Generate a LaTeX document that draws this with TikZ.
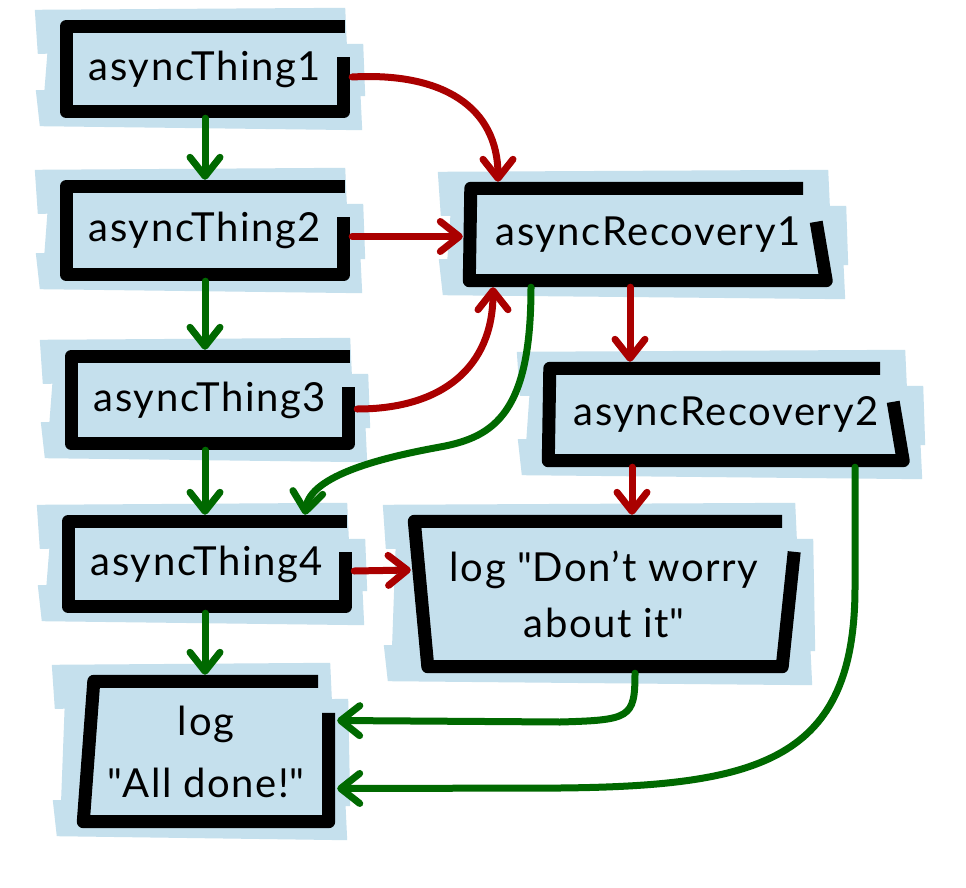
\documentclass[tikz,border=0pt]{standalone}
\usepackage{fontspec}
\setmainfont{Lato}[LetterSpace=4.0]
\usetikzlibrary{arrows.meta,backgrounds}
\definecolor{boxblue}{RGB}{197,224,237}
\definecolor{arrred}{RGB}{170,0,0}
\definecolor{arrgreen}{RGB}{0,105,0}
\newcommand\bluestrips[1]{%
 \fill[boxblue] ([shift={(-25,-10)}]#1.north west) -- ([shift={(-5,-12)}]#1.north east) -- ([shift={(-3,32)}]#1.north east) -- ([shift={(-22,34)}]#1.north west) -- cycle;
 \fill[boxblue] ([shift={(-12,28)}]#1.north west) -- ([shift={(13,24)}]#1.north east) -- ([shift={(15,-22)}]#1.south east) -- ([shift={(-16,-20)}]#1.south west) -- cycle;
 \fill[boxblue] ([shift={(-24,-28)}]#1.south west) -- ([shift={(10,-30)}]#1.south east) -- ([shift={(12,12)}]#1.south east) -- ([shift={(-20,8)}]#1.south west) -- cycle;
}
\newcommand\plainframe[1]{%
 \draw[frame] ([shift={(-5,6.5)}]#1.north east) -- ([shift={(6.5,6.5)}]#1.north west) -- ([shift={(6.5,-6.5)}]#1.south west) -- ([shift={(-6.5,-6.5)}]#1.south east) -- ([shift={(-6.5,37)}]#1.north east);
}
\newcommand\slantframe[1]{%
 \draw[frame] ([shift={(-30,6.5)}]#1.north east) -- ([shift={(8,6.5)}]#1.north west) -- ([shift={(6.5,-6.5)}]#1.south west) -- ([shift={(-7,-6.5)}]#1.south east) -- ([shift={(-17,40)}]#1.north east);
}
\newcommand\dq{\textquotedbl}
\tikzset{
 frame/.style={line width=13pt, line join=round, draw=black},
 box/.style={inner sep=0pt, align=center, font=\fontsize{40}{56}\selectfont},
 redarr/.style={draw=arrred, line width=7pt, line cap=round, -{Straight Barb[length=19pt,width=30pt,round]}},
 greenarr/.style={draw=arrgreen, line width=7pt, line cap=round, -{Straight Barb[length=19pt,width=30pt,round]}}
}
\begin{document}
\begin{tikzpicture}[x=1pt,y=-1pt]
\useasboundingbox (0,0) rectangle (966,888);
% nodes
\node[box, minimum width=290pt, minimum height=98pt] (a1) at (205,69) {asyncThing1};
\node[box, minimum width=290pt, minimum height=101pt] (a2) at (205,230.5) {asyncThing2};
\node[box, minimum width=290pt, minimum height=100pt] (a3) at (210,400) {asyncThing3};
\node[box, minimum width=290pt, minimum height=98pt] (a4) at (207,564) {asyncThing4};
\node[box, minimum width=258pt, minimum height=153pt] (logall) at (206,751.5) {log\\[6pt]\dq All done!\dq};
\node[box, minimum width=370pt, minimum height=105pt] (r1) at (648,234.5) {asyncRecovery1};
\node[box, minimum width=368pt, minimum height=105pt] (r2) at (726,414.5) {asyncRecovery2};
\node[box, minimum width=392pt, minimum height=158pt] (logdw) at (604,594) {log \dq Don't worry\\about it\dq};
% backgrounds
\begin{pgfonlayer}{background}
 \fill[white] (0,0) rectangle (966,888);
 \bluestrips{a1}
 \bluestrips{a2}
 \bluestrips{a3}
 \bluestrips{a4}
 \bluestrips{logall}
 \bluestrips{r1}
 \bluestrips{r2}
 \bluestrips{logdw}
\end{pgfonlayer}
% frames
\plainframe{a1}
\plainframe{a2}
\plainframe{a3}
\plainframe{a4}
\slantframe{r1}
\slantframe{r2}
\draw[frame] ([shift={(-18,6.5)}]logdw.north east) -- ([shift={(6.5,6.5)}]logdw.north west) -- ([shift={(20,-6.5)}]logdw.south west) -- ([shift={(-18,-6.5)}]logdw.south east) -- ([shift={(-6,37)}]logdw.north east);
\draw[frame] ([shift={(-17,6.5)}]logall.north east) -- ([shift={(17,6.5)}]logall.north west) -- ([shift={(6.5,-6.5)}]logall.south west) -- ([shift={(-6.5,-6.5)}]logall.south east) -- ([shift={(-6.5,38)}]logall.north east);
% green main chain
\draw[greenarr] (a1.south) -- (a2.north);
\draw[greenarr] (a2.south) -- ([xshift=-5pt]a3.north);
\draw[greenarr] ([xshift=-5pt]a3.south) -- ([xshift=-2pt]a4.north);
\draw[greenarr] ([xshift=-2pt]a4.south) -- ([xshift=-1pt]logall.north);
% red connectors
\draw[redarr] ([shift={(2,8)}]a1.east) .. controls +(90,-5) and +(0,-75) .. ([xshift=-150pt]r1.north);
\draw[redarr] ([shift={(2,6)}]a2.east) -- ([shift={(0,2)}]r1.west);
\draw[redarr] ([shift={(2,9)}]a3.east) .. controls +(85,0) and +(0,80) .. ([xshift=-155pt]r1.south);
\draw[redarr] ([xshift=-18pt]r1.south) -- ([xshift=-96pt]r2.north);
\draw[redarr] ([xshift=-94pt]r2.south) -- ([xshift=28pt]logdw.north);
\draw[redarr] ([shift={(2,7)}]a4.east) -- ([shift={(3,-24)}]logdw.west);
% green recovery connectors
\draw[greenarr] ([xshift=-117pt]r1.south) .. controls +(0,125) and +(55,-10) .. (440,447) .. controls +(-55,10) and +(5,-40) .. ([xshift=98pt]a4.north);
\draw[greenarr] ([xshift=31pt]logdw.south) .. controls +(0,45) and +(70,-2) .. (560,722) -- ([shift={(2,-31)}]logall.east);
\draw[greenarr] ([xshift=129pt]r2.south) -- ++(0,120) .. controls +(0,173) and +(200,-2) .. (560,788) -- ([shift={(2,37)}]logall.east);
\end{tikzpicture}
\end{document}
